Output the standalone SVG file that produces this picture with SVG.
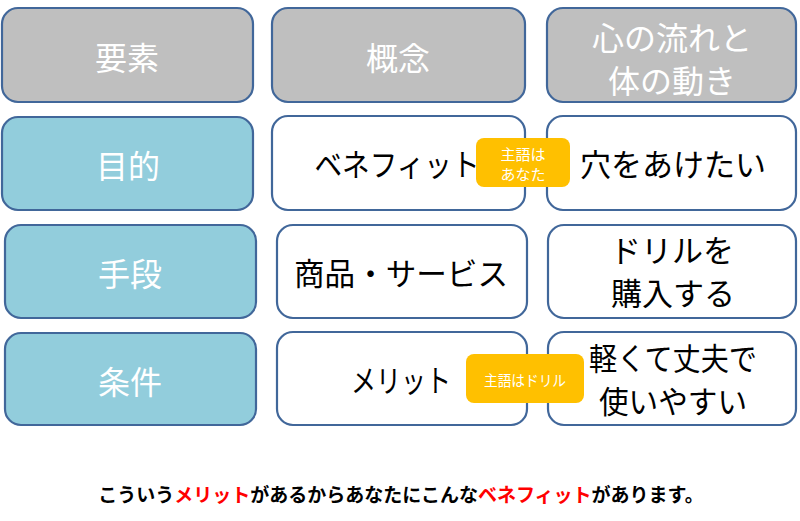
<svg xmlns="http://www.w3.org/2000/svg" width="800" height="521" viewBox="0 0 800 521">
<style>
.box{stroke:#41679A;stroke-width:2.2}
.hd{fill:#BFBFBF}
.lb{fill:#92CDDC}
.wt{fill:#FFFFFF}
.badge{fill:#FFC000}
text{font-family:"Noto Sans CJK JP","Noto Sans CJK SC",sans-serif;text-anchor:middle;dominant-baseline:central}
.t1{font-size:32px;fill:#FFFFFF}
.t2{font-size:31px;fill:#000000}
.tb{font-size:15px;fill:#FFFFFF}
.foot{font-size:19px;font-weight:bold;fill:#000000}
.red{fill:#FF0000}
</style>
<rect width="800" height="521" fill="#FFFFFF"/>
<g id="h1"><rect class="box hd" x="2" y="8" width="251" height="94" rx="16"/><text class="t1" x="127" y="56">要素</text></g>
<g id="h2"><rect class="box hd" x="272" y="8" width="253" height="94" rx="16"/><text class="t1" x="398" y="56">概念</text></g>
<g id="h3"><rect class="box hd" x="547" y="8" width="249" height="94" rx="16"/><text class="t1" x="672" y="36" font-size="31">心の流れと</text><text class="t1" x="672" y="79" font-size="31">体の動き</text></g>

<g id="l1"><rect class="box lb" x="2" y="117" width="251" height="93" rx="16"/><text class="t1" x="128" y="164">目的</text></g>
<g id="c1"><rect class="box wt" x="272" y="116" width="253" height="94" rx="16"/><text class="t2" x="397" y="162" textLength="165" lengthAdjust="spacingAndGlyphs">ベネフィット</text></g>
<g id="r1"><rect class="box wt" x="547" y="116" width="249" height="94" rx="16"/><text class="t2" x="673" y="162">穴をあけたい</text></g>

<g id="l2"><rect class="box lb" x="5" y="225" width="251" height="93" rx="16"/><text class="t1" x="130" y="272">手段</text></g>
<g id="c2"><rect class="box wt" x="277" y="225" width="250" height="93" rx="16"/><text class="t2" x="401" y="271" textLength="214" lengthAdjust="spacingAndGlyphs">商品・サービス</text></g>
<g id="r2"><rect class="box wt" x="548" y="225" width="248" height="93" rx="16"/><text class="t2" x="672" y="248">ドリルを</text><text class="t2" x="673" y="291">購入する</text></g>

<g id="l3"><rect class="box lb" x="5" y="333" width="251" height="92" rx="16"/><text class="t1" x="130" y="380">条件</text></g>
<g id="c3"><rect class="box wt" x="277" y="332" width="250" height="93" rx="16"/><text class="t2" x="401" y="378" textLength="100" lengthAdjust="spacingAndGlyphs">メリット</text></g>
<g id="r3"><rect class="box wt" x="548" y="332" width="248" height="93" rx="16"/><text class="t2" x="673" y="356" textLength="168" lengthAdjust="spacingAndGlyphs">軽くて丈夫で</text><text class="t2" x="673" y="399" textLength="148" lengthAdjust="spacingAndGlyphs">使いやすい</text></g>

<g id="b1"><rect class="badge" x="476" y="138" width="94" height="49" rx="8"/><text class="tb" x="523" y="153">主語は</text><text class="tb" x="523" y="173">あなた</text></g>
<g id="b2"><rect class="badge" x="466" y="354" width="118" height="49" rx="8"/><text class="tb" x="525" y="379" textLength="82" lengthAdjust="spacingAndGlyphs">主語はドリル</text></g>

<g id="connectors"></g>

<text class="foot" x="401" y="493">こういう<tspan class="red">メリット</tspan>があるからあなたにこんな<tspan class="red">ベネフィット</tspan>があります。</text>
</svg>
